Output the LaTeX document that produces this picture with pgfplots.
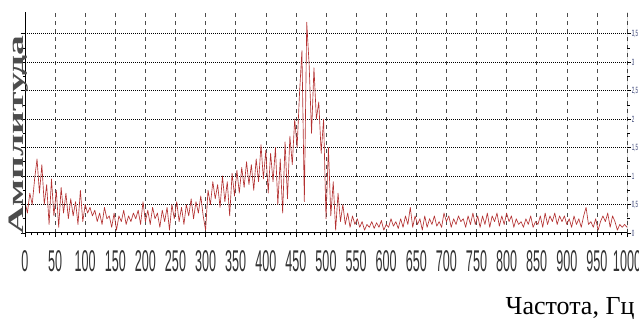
\documentclass[border=0pt]{standalone}
\usepackage{fontspec}
\setmainfont{Liberation Serif}
\usepackage{pgfplots}
\pgfplotsset{compat=1.18}
\newfontfamily\ticknarrow[FakeStretch=0.42]{Liberation Sans}
\newfontfamily\ytnarrow[FakeStretch=0.5]{Liberation Sans}
\newfontfamily\ylabfont[FakeStretch=1.8]{Liberation Serif}
\definecolor{sig}{RGB}{180,50,50}
\definecolor{ytc}{RGB}{60,70,120}
\begin{document}
\begin{tikzpicture}
\begin{axis}[
  at={(25pt,87pt)}, anchor=south west,
  scale only axis, width=602pt, height=221pt,
  xmin=0, xmax=1000, ymin=0, ymax=3.88,
  axis line style={draw=none},
  xtick={0,50,...,1000},
  ytick={0,0.5,...,3.5},
  minor x tick num=4,
  minor y tick num=1,
  xtick pos=bottom,
  ytick pos=both,
  yticklabel pos=right,
  tick align=outside,
  major tick length=4pt,
  minor tick length=2.5pt,
  tick style={black, line width=0.6pt},
  /pgf/number format/assume math mode=true,
  /pgf/number format/use comma,
  /pgf/number format/1000 sep={},
  xticklabel style={font=\ticknarrow\fontsize{30}{30}\selectfont, text=black!80, yshift=-10pt},
  yticklabel style={font=\ytnarrow\fontsize{9}{9}\selectfont, text=ytc, inner sep=0.6pt},
  grid=major,
  x grid style={black!70, line width=0.6pt, dash pattern=on 4pt off 4pt},
  y grid style={black, line width=1pt, dash pattern=on 1pt off 1pt},
]
\addplot[sig, line width=0.65pt, line join=round] coordinates {
(0,0.55)(4,0.35)(8,0.7)(12,0.5)(16,0.95)(20,1.3)(24,0.7)(28,1.2)(32,0.5)(36,0.85)
(40,0.15)(44,0.95)(48,0.3)(52,0.75)(56,0.1)(60,0.8)(64,0.35)(68,0.7)(72,0.25)(76,0.6)
(80,0.3)(84,0.55)(88,0.15)(92,0.75)(96,0.2)(100,0.5)
(104,0.35)(108,0.45)(112,0.3)(116,0.4)(120,0.2)(124,0.35)(128,0.15)(132,0.45)(136,0.25)(140,0.3)
(144,0.1)(148,0.35)(152,0.05)(156,0.3)(160,0.2)(164,0.4)(168,0.15)(172,0.3)(176,0.2)(180,0.35)
(184,0.25)(188,0.4)(192,0.15)(196,0.55)(200,0.2)(204,0.4)(208,0.15)(212,0.45)(216,0.25)(220,0.35)
(224,0.1)(228,0.4)(232,0.2)(236,0.45)(240,0.05)(244,0.5)(248,0.25)(252,0.55)(256,0.2)(260,0.45)
(264,0.15)(268,0.5)(272,0.3)(276,0.6)(280,0.25)(284,0.55)(288,0.35)(292,0.65)(296,0.3)(300,0.05)
(304,0.75)(308,0.5)(312,0.9)(316,0.6)(320,0.85)(324,0.45)(328,1.0)(332,0.55)(336,0.9)(340,0.3)
(344,1.05)(348,0.65)(352,1.1)(356,0.7)(360,1.15)(364,0.8)(368,1.25)(372,0.85)(376,1.2)(380,0.75)
(384,1.3)(388,0.9)(392,1.55)(396,0.95)(400,1.45)(404,0.7)(408,1.4)(412,0.9)(416,1.5)(420,0.5)
(424,1.3)(428,0.35)(432,1.6)(436,0.6)(440,1.7)
(444,1.2)(448,2.0)(452,1.5)(456,2.45)(460,3.2)(464,0.55)(468,3.7)(472,2.95)(476,1.75)(480,2.9)
(484,2.0)(488,2.3)(492,1.4)(496,2.0)(500,0.25)(504,1.5)(508,0.3)(512,0.9)(516,0.05)(520,0.7)
(524,0.2)(528,0.5)(532,0.15)(536,0.35)(540,0.1)(544,0.3)(548,0.15)(552,0.25)(556,0.1)(560,0.2)
(564,0.05)(568,0.15)(572,0.1)(576,0.2)(580,0.08)(584,0.18)(588,0.1)(592,0.22)(596,0.05)(600,0.15)
(604,0.1)(608,0.25)(612,0.12)(616,0.2)(620,0.08)(624,0.25)(628,0.1)(632,0.3)(636,0.15)(640,0.45)
(644,0.1)(648,0.3)(652,0.15)(656,0.25)(660,0.05)(664,0.3)(668,0.1)(672,0.25)(676,0.15)(680,0.3)
(684,0.12)(688,0.2)(692,0.1)(696,0.35)(700,0.2)(704,0.3)(708,0.1)(712,0.25)(716,0.15)(720,0.3)
(724,0.2)(728,0.25)(732,0.1)(736,0.3)(740,0.15)(744,0.35)(748,0.15)(752,0.3)(756,0.1)(760,0.3)
(764,0.15)(768,0.35)(772,0.1)(776,0.3)(780,0.2)(784,0.35)(788,0.12)(792,0.3)(796,0.15)(800,0.35)
(804,0.2)(808,0.3)(812,0.1)(816,0.25)(820,0.15)(824,0.2)(828,0.1)(832,0.25)(836,0.15)(840,0.3)
(844,0.1)(848,0.2)(852,0.15)(856,0.3)(860,0.1)(864,0.35)(868,0.15)(872,0.3)(876,0.2)(880,0.35)
(884,0.15)(888,0.3)(892,0.2)(896,0.3)(900,0.15)(904,0.25)(908,0.1)(912,0.3)(916,0.15)(920,0.25)
(924,0.1)(928,0.3)(932,0.45)(936,0.15)(940,0.2)(944,0.1)(948,0.25)(952,0.05)(956,0.2)(960,0.3)
(964,0.2)(968,0.35)(972,0.1)(976,0.3)(980,0.2)(984,0.05)(988,0.15)(992,0.1)(996,0.15)(1000,0.1)
};
\draw[black, line width=0.8pt] (rel axis cs:0,0) -- (rel axis cs:0,1);
\draw[black, line width=0.8pt] (rel axis cs:1,0) -- (rel axis cs:1,1);
\draw[black, line width=2pt] (rel axis cs:0,0) -- (rel axis cs:1,0);
\end{axis}
\node[rotate=90, anchor=base, text=black!70, font=\ylabfont\bfseries\fontsize{22}{22}\selectfont] at (23pt,185pt) {Амплитуда};
\node[anchor=base east, font=\fontsize{26}{26}\selectfont] at (638pt,5pt) {Частота, Гц};
\pgfresetboundingbox
\useasboundingbox (0,0) rectangle (639pt,320pt);
\end{tikzpicture}
\end{document}
